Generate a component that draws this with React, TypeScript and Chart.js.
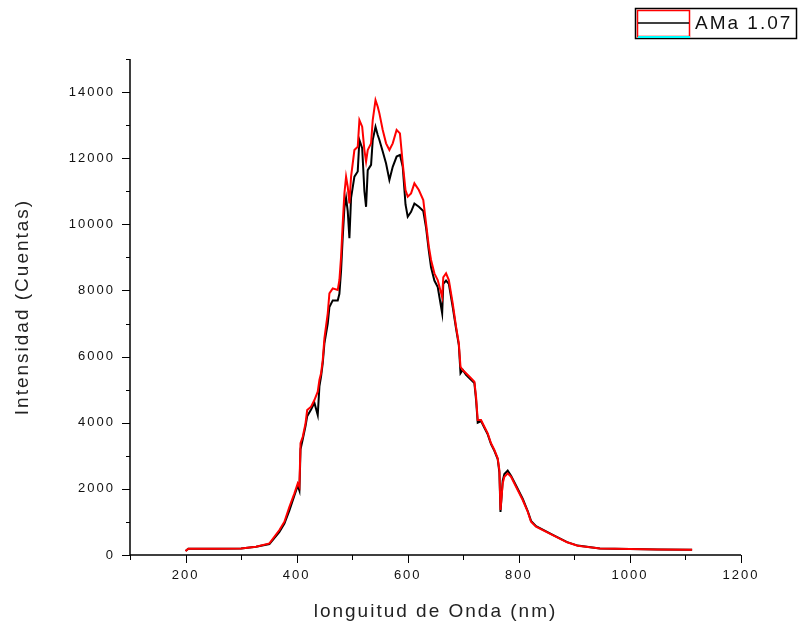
import React, { useEffect, useRef } from "react";
import { Chart, registerables } from "chart.js";

Chart.register(...registerables);

// Wavelength (nm)
const wavelengths = [
  200, 205, 250, 300, 327, 351, 369, 378, 387, 396, 402, 405, 407, 411, 416, 419, 426, 432, 438, 441,
  444, 447, 450, 456, 459, 465, 474, 477, 480, 483, 486, 489, 492, 495, 498, 504, 510, 513, 518, 522,
  525, 528, 534, 537, 542, 546, 549, 555, 561, 567, 573, 580, 586, 591, 596, 600, 606, 612, 620, 628,
  633, 638, 642, 648, 654, 662, 664, 669, 674, 681, 687, 692, 695, 699, 705, 714, 720, 723, 726, 732,
  738, 744, 750, 756, 762, 765, 767, 771, 774, 780, 786, 795, 807, 816, 822, 831, 862, 887, 906, 946,
  1000, 1050, 1112,
];

// Red trace (counts)
const redCounts = [
  120, 190, 190, 200, 250, 350, 756, 1007, 1460, 1865, 2168, 2065, 3378, 3577, 3982, 4385, 4485, 4687, 4938, 5292,
  5495, 5897, 6553, 7308, 7913, 8064, 8013, 8316, 9020, 10030, 10937, 11440, 11137, 10634, 11440, 12247, 12347, 13154, 12952, 12247,
  11900, 12247, 12449, 13154, 13759, 13557, 13356, 12852, 12449, 12247, 12449, 12852, 12751, 11844, 11037, 10836, 10937, 11240, 11037, 10735,
  10030, 9328, 8921, 8518, 8316, 7800, 8400, 8518, 8316, 7611, 6904, 6401, 5694, 5594, 5494, 5343, 5241, 4787, 4082, 4082,
  3880, 3680, 3378, 3175, 2924, 2570, 1361, 2168, 2368, 2470, 2368, 2065, 1663, 1309, 1007, 856, 593, 384, 281, 200,
  180, 170, 160,
];

// Black trace (counts)
const blackCounts = [
  120, 190, 190, 200, 250, 330, 700, 950, 1350, 1800, 2100, 1950, 3200, 3500, 3900, 4200, 4400, 4600, 4230, 5100,
  5400, 5800, 6400, 7000, 7500, 7700, 7700, 7900, 8600, 9620, 10500, 10800, 10400, 9580, 10800, 11440, 11600, 12550, 12300, 11000,
  10530, 11640, 11800, 12550, 12950, 12700, 12550, 12200, 11840, 11340, 11740, 12050, 12100, 11740, 10600, 10230, 10380, 10630, 10530, 10400,
  9900, 9200, 8700, 8300, 8100, 7310, 8200, 8300, 8200, 7500, 6850, 6350, 5500, 5600, 5450, 5300, 5200, 4700, 4000, 4050,
  3850, 3650, 3350, 3150, 2900, 2500, 1300, 2250, 2450, 2550, 2400, 2100, 1700, 1330, 1030, 870, 600, 390, 285, 200,
  180, 170, 160,
];

const xTickValues = [100, 200, 300, 400, 500, 600, 700, 800, 900, 1000, 1100, 1200];
const yTickValues = [0, 1000, 2000, 3000, 4000, 5000, 6000, 7000, 8000, 9000, 10000, 11000, 12000, 13000, 14000, 15000];

const legendLabel = "AMa 1.07";
const xTitle = "longuitud de Onda (nm)";
const yTitle = "Intensidad (Cuentas)";

const FONT = "'Liberation Sans', Arial, sans-serif";

const originPlugin = {
  id: "originStyle",
  beforeDraw(chart: any) {
    (chart.ctx as any).letterSpacing = "2px";
  },
  afterDraw(chart: any) {
    const ctx = chart.ctx;
    const { left, right, top, bottom } = chart.chartArea;
    const xs = chart.scales.x;
    const ys = chart.scales.y;
    ctx.save();
    ctx.strokeStyle = "#000";
    ctx.lineWidth = 1.5;
    ctx.beginPath();
    ctx.moveTo(left, top);
    ctx.lineTo(left, bottom);
    ctx.lineTo(right, bottom);
    ctx.stroke();
    ctx.lineWidth = 1;
    ctx.beginPath();
    xTickValues.forEach((v) => {
      const px = Math.round(xs.getPixelForValue(v)) + 0.5;
      const len = v % 200 === 0 ? 8 : 5;
      ctx.moveTo(px, bottom);
      ctx.lineTo(px, bottom + len);
    });
    yTickValues.forEach((v) => {
      const py = Math.round(ys.getPixelForValue(v)) + 0.5;
      const len = v % 2000 === 0 ? 8 : 4;
      ctx.moveTo(left, py);
      ctx.lineTo(left - len, py);
    });
    ctx.stroke();

    // legend
    (ctx as any).letterSpacing = "2px";
    ctx.lineWidth = 1.5;
    ctx.strokeStyle = "#000";
    ctx.strokeRect(635.5, 8.5, 161, 30);
    ctx.strokeStyle = "#ff0000";
    ctx.strokeRect(637.5, 10.5, 52, 26);
    ctx.strokeStyle = "#000";
    ctx.beginPath();
    ctx.moveTo(638, 23);
    ctx.lineTo(689, 23);
    ctx.stroke();
    ctx.strokeStyle = "#00ffff";
    ctx.lineWidth = 2;
    ctx.beginPath();
    ctx.moveTo(638, 37);
    ctx.lineTo(690, 37);
    ctx.stroke();
    ctx.fillStyle = "#111";
    ctx.font = `19px ${FONT}`;
    ctx.textAlign = "left";
    ctx.textBaseline = "middle";
    ctx.fillText(legendLabel, 695, 24);
    ctx.restore();
  },
};

export default function App() {
  const canvasRef = useRef<HTMLCanvasElement | null>(null);

  useEffect(() => {
    if (!canvasRef.current) return;
    const chart = new Chart(canvasRef.current, {
      type: "line",
      data: {
        datasets: [
          {
            label: "red",
            data: wavelengths.map((x, i) => ({ x, y: redCounts[i] })),
            borderColor: "#ff0000",
            borderWidth: 2,
            pointRadius: 0,
            tension: 0,
            fill: false,
            order: 0,
          },
          {
            label: "black",
            data: wavelengths.map((x, i) => ({ x, y: blackCounts[i] })),
            borderColor: "#000000",
            borderWidth: 2,
            pointRadius: 0,
            tension: 0,
            fill: false,
            order: 1,
          },
        ],
      },
      options: {
        responsive: false,
        animation: false,
        layout: { padding: { top: 59, right: 58, left: 0, bottom: 0 } },
        plugins: {
          legend: { display: false },
          tooltip: { enabled: false },
          title: { display: false },
        },
        scales: {
          x: {
            type: "linear",
            min: 100,
            max: 1200,
            grid: { display: false, drawTicks: false },
            border: { display: false },
            afterFit: (s: any) => {
              s.height = 78;
            },
            ticks: {
              stepSize: 100,
              autoSkip: false,
              maxRotation: 0,
              padding: 13,
              color: "#111",
              font: { family: FONT, size: 13 },
              callback: (v: any) => (Number(v) % 200 === 0 ? String(v) : ""),
            },
            title: {
              display: true,
              text: xTitle,
              color: "#222",
              font: { family: FONT, size: 19 },
              padding: { top: 0, bottom: 10 },
            },
          },
          y: {
            type: "linear",
            min: 0,
            max: 15000,
            grid: { display: false, drawTicks: false },
            border: { display: false },
            afterFit: (s: any) => {
              s.width = 130;
            },
            ticks: {
              stepSize: 1000,
              autoSkip: false,
              padding: 15,
              color: "#111",
              font: { family: FONT, size: 13 },
              callback: (v: any) => (Number(v) % 2000 === 0 ? String(v) : ""),
            },
            title: {
              display: true,
              text: yTitle,
              color: "#222",
              font: { family: FONT, size: 19 },
              padding: { top: 11, bottom: 0 },
            },
          },
        },
      },
      plugins: [originPlugin],
    });
    return () => chart.destroy();
  }, []);

  return (
    <div style={{ position: "fixed", left: 0, top: 0, width: 799, height: 633, background: "#fff" }}>
      <canvas ref={canvasRef} width={799} height={633} style={{ display: "block" }} />
    </div>
  );
}
